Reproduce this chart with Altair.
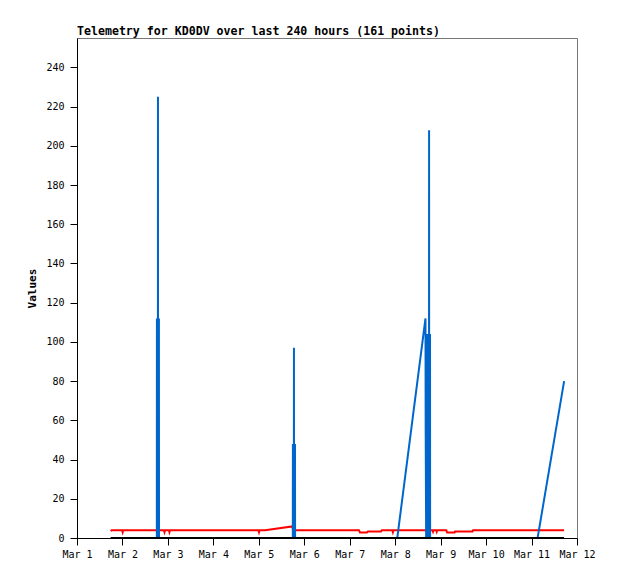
import altair as alt
import pandas as pd

# Time offsets in hours from Mar 1 00:00 (UTC) and values per series
black_hours = [17.8, 257.2]
black_values = [0, 0]

blue_hours = [17.8, 42.15, 42.2, 42.25, 42.7, 42.75, 42.8, 43.2, 43.25, 43.3,
              113.95, 114.0, 114.05, 114.5, 114.55, 114.6, 115.05, 115.1, 115.15,
              169.1, 184.0, 184.1, 184.35, 184.75, 184.8, 184.85, 185.25, 185.3, 185.35,
              185.85, 185.9, 185.95, 186.35, 186.4, 186.45,
              243.2, 257.2]
blue_values = [0, 0, 112, 0, 0, 225, 0, 0, 112, 0,
               0, 48, 0, 0, 97, 0, 0, 48, 0,
               0, 112, 56, 0, 0, 104, 0, 0, 104, 0,
               0, 208, 0, 0, 104, 0,
               0, 80]

red_hours = [17.8, 18.3, 23.8, 24.1, 24.4, 45.9, 46.2, 46.5, 48.5, 48.8, 49.1,
             95.8, 96.1, 96.4, 99.3, 113.6, 114.2,
             148.9, 149.4, 153.1, 153.6, 160.5, 161.0,
             166.5, 166.8, 167.1, 187.7, 188.0, 188.3, 189.6, 189.9, 190.2,
             195.0, 195.4, 199.4, 199.6, 208.8, 209.1, 257.2]
red_values = [3.5, 4, 4, 3, 4, 4, 3, 4, 4, 3, 4,
              4, 3, 4, 4, 5.9, 4,
              4, 2.8, 2.8, 3.3, 3.3, 4,
              4, 3, 4, 4, 3.2, 4, 4, 3.2, 4,
              4, 2.8, 2.8, 3.3, 3.3, 4, 4]

y_ticks = list(range(0, 241, 20))
x_days = list(range(1, 13))

BASE_MS = 1709251200000  # 2024-03-01T00:00:00Z
DAY_MS = 86400000


def frame(hours, values):
    return pd.DataFrame({"t": [BASE_MS + h * 3600000 for h in hours], "v": values})


FONT = "DejaVu Sans Mono"

x_enc = alt.X(
    "t:T",
    scale=alt.Scale(type="utc", domain=[BASE_MS, BASE_MS + 11 * DAY_MS]),
    axis=alt.Axis(
        title=None,
        values=[BASE_MS + (d - 1) * DAY_MS for d in x_days],
        labelExpr="utcFormat(datum.value, '%b %-d')",
        labelOverlap=False,
        labelFlush=False,
        labelBound=False,
        labelAlign="center",
        tickSize=7,
        labelPadding=4,
    ),
)
y_enc = alt.Y(
    "v:Q",
    scale=alt.Scale(domain=[0, 255], nice=False),
    axis=alt.Axis(
        title="Values",
        values=y_ticks,
        tickSize=7,
        labelPadding=6,
        labelOverlap=False,
        titleX=-45,
        titleY=250,
        titleAngle=-90,
        titleBaseline="middle",
        titleAlign="center",
    ),
)

red = alt.Chart(frame(red_hours, red_values)).mark_line(
    color="#ff0000", strokeWidth=2, interpolate="linear"
).encode(x=x_enc, y=y_enc)
blue = alt.Chart(frame(blue_hours, blue_values)).mark_line(
    color="#0066cc", strokeWidth=2, interpolate="linear"
).encode(x=x_enc, y=y_enc)
black = alt.Chart(frame(black_hours, black_values)).mark_line(
    color="#000000", strokeWidth=2
).encode(x=x_enc, y=y_enc)

chart = (
    alt.layer(red, blue, black)
    .properties(
        width=500,
        height=500,
        autosize=alt.AutoSizeParams(type="none"),
        padding={"left": 69, "top": 30, "right": 33, "bottom": 33},
        title=alt.Title(
            "Telemetry for KD0DV over last 240 hours (161 points)",
            anchor="start",
            frame="group",
            offset=-9,
            baseline="alphabetic",
            font=FONT,
            fontSize=11.6,
            fontWeight="bold",
            color="black",
        ),
    )
    .configure_view(stroke="#777777", strokeWidth=1)
    .configure_axis(
        grid=False,
        labelFont=FONT,
        labelFontSize=10,
        labelColor="black",
        tickColor="black",
        domainColor="black",
        titleFont=FONT,
        titleFontSize=11,
        titleFontWeight="bold",
        titleColor="black",
    )
)

chart.save("out.html", embed_options={"renderer": "svg", "actions": False})
